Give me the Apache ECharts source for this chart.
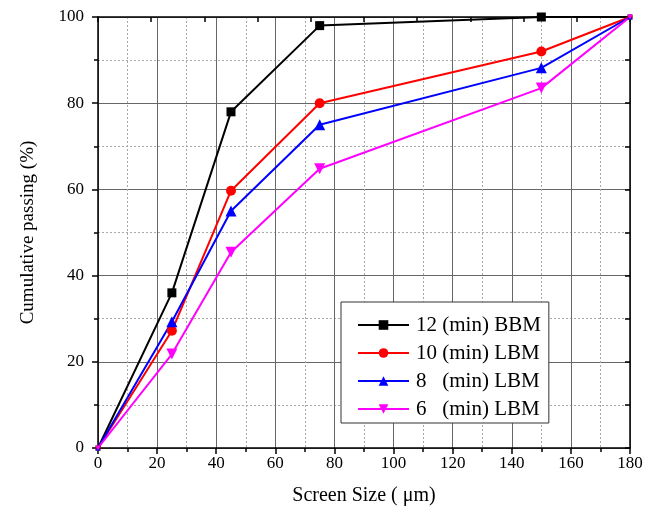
<!DOCTYPE html>
<html>
<head>
<meta charset="utf-8">
<title>Cumulative passing vs screen size</title>
<script src="https://cdn.jsdelivr.net/npm/echarts@6/dist/echarts.min.js"></script>
<style>
  html, body { margin: 0; padding: 0; background: #fff; }
  #chart { width: 656px; height: 513px; }
</style>
</head>
<body>
<div id="chart"></div>
<script>
// Screen sizes (µm) at which passing was measured
var screenSizes = [0, 25, 45, 75, 150, 180];

// Cumulative passing (%) for each milling condition
var bbm12 = [0, 36, 78, 98, 100, 100];
var lbm10 = [0, 27.2, 59.7, 80, 92, 100];
var lbm8  = [0, 29.3, 55, 75, 88.2, 100];
var lbm6  = [0, 21.8, 45.4, 64.8, 83.5, 100];

var seriesNames = ['12 (min) BBM', '10 (min) LBM', '8   (min) LBM', '6   (min) LBM'];
var seriesValues = [bbm12, lbm10, lbm8, lbm6];
var seriesColors = ['#000000', '#ff0000', '#0000ff', '#ff00ff'];
var seriesSymbols = ['rect', 'circle', 'triangle', 'path://M0,0 L10,0 L5,9 Z'];
var seriesSymbolSizes = [9, 10, 11, 11];

var X_MIN = 0, X_MAX = 180;
var FONT = '"Liberation Serif", "Times New Roman", serif';

// Points sitting on the frame corners are drawn small, as only a sliver shows inside the plot
function pairs(xs, ys, size) {
  return xs.map(function (x, i) {
    var onCorner = (x === X_MIN || x === X_MAX);
    return { value: [x, ys[i]], symbolSize: onCorner ? 5 : size };
  });
}

var series = seriesValues.map(function (vals, i) {
  return {
    name: seriesNames[i],
    type: 'line',
    data: pairs(screenSizes, vals, seriesSymbolSizes[i]),
    xAxisIndex: 0,
    yAxisIndex: 0,
    symbol: seriesSymbols[i],
    symbolSize: seriesSymbolSizes[i],
    showAllSymbol: true,
    clip: false,
    color: seriesColors[i],
    lineStyle: { color: seriesColors[i], width: 2 },
    itemStyle: { color: seriesColors[i] },
    emphasis: { disabled: true },
    animation: false
  };
});

var chart = echarts.init(document.getElementById('chart'), null, { renderer: 'canvas' });

chart.setOption({
  backgroundColor: '#ffffff',
  animation: false,
  grid: { left: 98, right: 26, top: 17, bottom: 65, containLabel: false },
  legend: {
    orient: 'vertical',
    left: 341,
    top: 302,
    width: 212,
    padding: [9, 8, 0, 16],
    itemWidth: 51,
    itemHeight: 12,
    itemGap: 0,
    backgroundColor: '#ffffff',
    borderColor: '#333333',
    borderWidth: 1,
    borderRadius: 0,
    selectedMode: false,
    textStyle: { fontFamily: FONT, fontSize: 21, color: '#000', lineHeight: 28, padding: [0, 0, 0, 2] },
    data: seriesNames
  },
  xAxis: [
    {
      type: 'value',
      position: 'bottom',
      min: X_MIN, max: X_MAX, interval: 20,
      name: 'Screen Size ( \u03bcm)',
      nameLocation: 'middle',
      nameGap: 38,
      nameTextStyle: { fontFamily: FONT, fontSize: 20, color: '#000' },
      axisLine: { show: true, onZero: false, lineStyle: { color: '#000', width: 1.5 } },
      axisTick: { show: true, inside: false, length: 6, lineStyle: { color: '#000', width: 1.5 } },
      minorTick: { show: true, splitNumber: 2, length: 4, lineStyle: { color: '#000', width: 1.5 } },
      axisLabel: { fontFamily: FONT, fontSize: 17, color: '#000', margin: 7 },
      splitLine: { show: true, lineStyle: { color: '#666666', width: 1, type: 'solid' } },
      minorSplitLine: { show: true, lineStyle: { color: '#a8a8a8', width: 1, type: [2, 2] } }
    },
    {
      type: 'value',
      position: 'top',
      min: X_MIN, max: X_MAX, interval: 18,
      axisLine: { show: true, onZero: false, lineStyle: { color: '#000', width: 1.5 } },
      axisTick: { show: true, inside: true, length: 5, lineStyle: { color: '#000', width: 1.5 } },
      axisLabel: { show: false },
      splitLine: { show: false }
    }
  ],
  yAxis: [
    {
      type: 'value',
      position: 'left',
      min: 0, max: 100, interval: 20,
      name: 'Cumulative passing (%)',
      nameLocation: 'middle',
      nameGap: 60,
      nameTextStyle: { fontFamily: FONT, fontSize: 19, color: '#000' },
      axisLine: { show: true, onZero: false, lineStyle: { color: '#000', width: 1.5 } },
      axisTick: { show: true, inside: false, length: 6, lineStyle: { color: '#000', width: 1.5 } },
      minorTick: { show: true, splitNumber: 2, length: 4, lineStyle: { color: '#000', width: 1.5 } },
      axisLabel: { fontFamily: FONT, fontSize: 17, color: '#000', margin: 14 },
      splitLine: { show: true, lineStyle: { color: '#666666', width: 1, type: 'solid' } },
      minorSplitLine: { show: true, lineStyle: { color: '#a8a8a8', width: 1, type: [2, 2] } }
    },
    {
      type: 'value',
      position: 'right',
      min: 0, max: 100, interval: 10,
      axisLine: { show: true, onZero: false, lineStyle: { color: '#000', width: 1.5 } },
      axisTick: { show: true, inside: true, length: 5, lineStyle: { color: '#000', width: 1.5 } },
      axisLabel: { show: false },
      splitLine: { show: false }
    }
  ],
  series: series
});
</script>
</body>
</html>
